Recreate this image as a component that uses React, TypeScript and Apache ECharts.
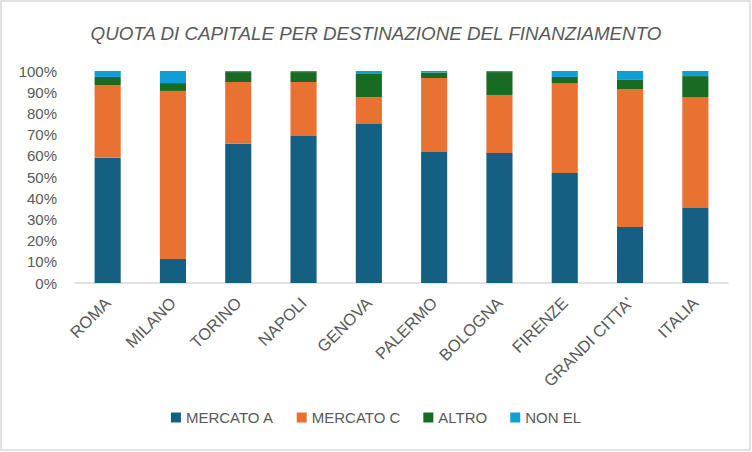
import React, { useEffect, useRef } from "react";
import * as echarts from "echarts";

const categories = ["ROMA", "MILANO", "TORINO", "NAPOLI", "GENOVA", "PALERMO", "BOLOGNA", "FIRENZE", "GRANDI CITTA'", "ITALIA"];
const mercatoA = [59.1, 11.3, 65.7, 69.3, 75.0, 61.8, 61.3, 51.9, 26.4, 35.4];
const mercatoC = [34.3, 79.3, 29.1, 25.5, 12.7, 34.9, 27.4, 42.4, 65.1, 52.3];
const altro = [3.8, 3.7, 4.7, 4.7, 10.9, 2.6, 10.8, 2.9, 4.3, 9.9];
const nonEl = [2.8, 5.7, 0.5, 0.5, 1.4, 0.7, 0.5, 2.8, 4.2, 2.4];
const seriesNames = ["MERCATO A", "MERCATO C", "ALTRO", "NON EL"];
const seriesColors = ["#156082", "#E97132", "#196B24", "#0F9ED5"];

const FONT = "'Liberation Sans', Roboto, sans-serif";
const TEXT = "#595959";

export default function App() {
  const ref = useRef<HTMLDivElement>(null);
  useEffect(() => {
    document.body.style.margin = "0";
    const chart = echarts.init(ref.current!, null, { renderer: "svg" });
    const values = [mercatoA, mercatoC, altro, nonEl];
    chart.setOption({
      animation: false,
      backgroundColor: "#ffffff",
      title: {
        text: "QUOTA DI CAPITALE PER DESTINAZIONE DEL FINANZIAMENTO",
        left: "center",
        top: 19,
        textStyle: { fontFamily: FONT, fontStyle: "italic", fontWeight: "normal", fontSize: 18.8, color: TEXT },
      },
      legend: {
        bottom: 22,
        left: "center",
        itemWidth: 10,
        itemHeight: 10,
        itemGap: 23,
        icon: "rect",
        textStyle: { fontFamily: FONT, fontSize: 15, color: TEXT },
        data: seriesNames,
      },
      grid: { left: 75, right: 24, top: 71, bottom: 169 },
      xAxis: {
        type: "category",
        data: categories,
        axisLine: { lineStyle: { color: "#D9D9D9", width: 1.5 } },
        axisTick: { show: false },
        axisLabel: { rotate: 45, interval: 0, margin: 17, fontFamily: FONT, fontSize: 16.5, color: TEXT },
      },
      yAxis: {
        type: "value",
        min: 0,
        max: 100,
        interval: 10,
        splitLine: { show: false },
        axisLine: { show: false },
        axisLabel: { formatter: "{value}%", margin: 18, fontFamily: FONT, fontSize: 15, color: TEXT },
      },
      graphic: [
        {
          type: "rect",
          shape: { x: 1, y: 1, width: 749, height: 449 },
          style: { fill: "none", stroke: "#D9D9D9", lineWidth: 1.5 },
          silent: true,
        },
      ],
      series: seriesNames.map((name, i) => ({
        name,
        type: "bar",
        stack: "total",
        barWidth: "40%",
        itemStyle: { color: seriesColors[i] },
        data: values[i],
      })),
    });
    return () => chart.dispose();
  }, []);
  return <div ref={ref} style={{ width: 752, height: 452 }} />;
}
